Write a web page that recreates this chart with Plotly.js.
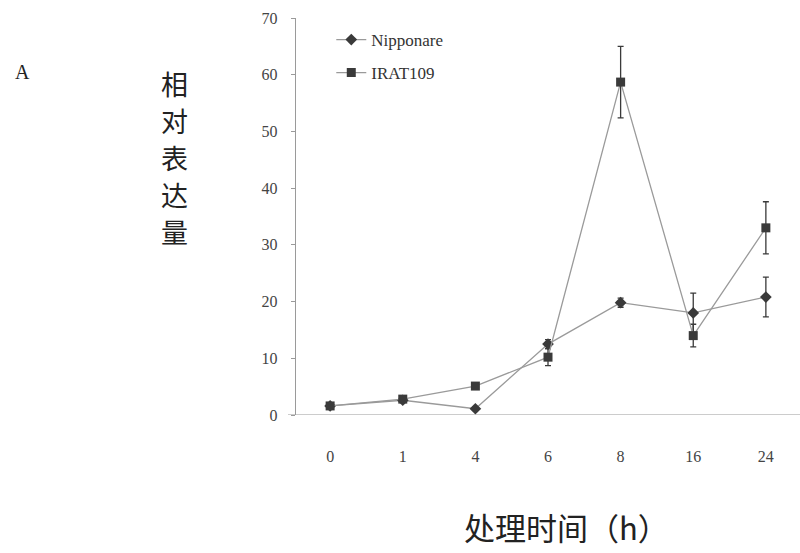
<!DOCTYPE html>
<html>
<head>
<meta charset="utf-8">
<script src="https://cdn.plot.ly/plotly-3.0.1.min.js"></script>
<style>
  html, body { margin: 0; padding: 0; background: #fff; }
  #chart { width: 800px; height: 553px; }
</style>
</head>
<body>
<div id="chart"></div>
<script>
// Treatment time points (h)
const timeLabels = ['0', '1', '4', '6', '8', '16', '24'];

// Relative expression, Nipponare
const nipponareMean = [1.6, 2.6, 1.1, 12.5, 19.8, 18.0, 20.8];
const nipponareErr  = [0.3, 0.3, 0.3, 0.8, 0.8, 3.5, 3.5];

// Relative expression, IRAT109
const irat109Mean = [1.6, 2.8, 5.1, 10.2, 58.7, 14.0, 33.0];
const irat109Err  = [0.4, 0.4, 0.5, 1.5, 6.3, 2.0, 4.6];

const yTicks = [0, 10, 20, 30, 40, 50, 60, 70];

// Y-axis title, written top to bottom one character per line
const yTitleChars = ['相', '对', '表', '达', '量'];

const serif = 'Liberation Serif, DejaVu Serif, serif';
const cjk = 'Noto Sans CJK SC, sans-serif';
const lineGray = '#9a9a9a';
const markGray = '#3a3a3a';

// plot-area geometry in pixels, used to place free text in paper coords
const plotLeft = 296, plotTop = 18, plotW = 504, plotH = 397;
const px = (x) => (x - plotLeft) / plotW;
const py = (y) => 1 - (y - plotTop) / plotH;

const traces = [
  {
    name: 'Nipponare',
    x: timeLabels,
    y: nipponareMean,
    type: 'scatter',
    mode: 'lines+markers',
    line: { color: lineGray, width: 1.3 },
    marker: { symbol: 'diamond', size: 9, color: markGray },
    error_y: { type: 'data', array: nipponareErr, visible: true,
               color: markGray, thickness: 1.3, width: 3 },
    legend: 'legend'
  },
  {
    name: 'IRAT109',
    x: timeLabels,
    y: irat109Mean,
    type: 'scatter',
    mode: 'lines+markers',
    line: { color: lineGray, width: 1.3 },
    marker: { symbol: 'square', size: 9, color: markGray },
    error_y: { type: 'data', array: irat109Err, visible: true,
               color: markGray, thickness: 1.3, width: 3 },
    legend: 'legend2'
  }
];

const legendStyle = (yPos) => ({
  x: 0.07, y: yPos, xanchor: 'left', yanchor: 'middle',
  bgcolor: 'rgba(0,0,0,0)', borderwidth: 0,
  font: { family: serif, size: 17, color: '#333' },
  itemwidth: 30, tracegroupgap: 0
});

const annotations = [
  { text: 'A', xref: 'paper', yref: 'paper', x: px(22), y: py(72),
    xanchor: 'center', yanchor: 'middle', showarrow: false,
    font: { family: serif, size: 20, color: '#222' } },
  { text: '处理时间（h）', xref: 'paper', yref: 'paper',
    x: px(566), y: py(526),
    xanchor: 'center', yanchor: 'middle', showarrow: false,
    font: { family: cjk, size: 31, color: '#222' } }
];
yTitleChars.forEach((ch, i) => {
  annotations.push({
    text: ch, xref: 'paper', yref: 'paper',
    x: px(174), y: py(83 + i * 37),
    xanchor: 'center', yanchor: 'middle', showarrow: false, borderpad: 0,
    font: { family: cjk, size: 27, color: '#222' }
  });
});

const layout = {
  width: 800,
  height: 553,
  margin: { l: plotLeft, r: 800 - plotLeft - plotW, t: plotTop, b: 553 - plotTop - plotH },
  paper_bgcolor: '#fff',
  plot_bgcolor: '#fff',
  showlegend: true,
  legend: legendStyle(py(40)),
  legend2: legendStyle(py(73)),
  xaxis: {
    type: 'category',
    range: [-0.47, 6.47],
    showgrid: false,
    zeroline: false,
    showline: false,
    ticks: '',
    ticklabelstandoff: 30,
    tickfont: { family: serif, size: 16, color: '#444' }
  },
  yaxis: {
    range: [0, 70],
    tickvals: yTicks,
    ticktext: yTicks.map(String),
    showgrid: false,
    zeroline: false,
    showline: true,
    linecolor: lineGray,
    linewidth: 1.2,
    ticks: 'outside',
    ticklen: 4,
    tickcolor: lineGray,
    ticklabelstandoff: 10,
    tickfont: { family: serif, size: 16, color: '#444' }
  },
  shapes: [
    { type: 'line', xref: 'paper', yref: 'y', x0: px(288), x1: 1, y0: 0, y1: 0,
      line: { color: lineGray, width: 1.2 } }
  ],
  annotations: annotations
};

Plotly.newPlot('chart', traces, layout, { displayModeBar: false, staticPlot: true });
</script>
</body>
</html>
